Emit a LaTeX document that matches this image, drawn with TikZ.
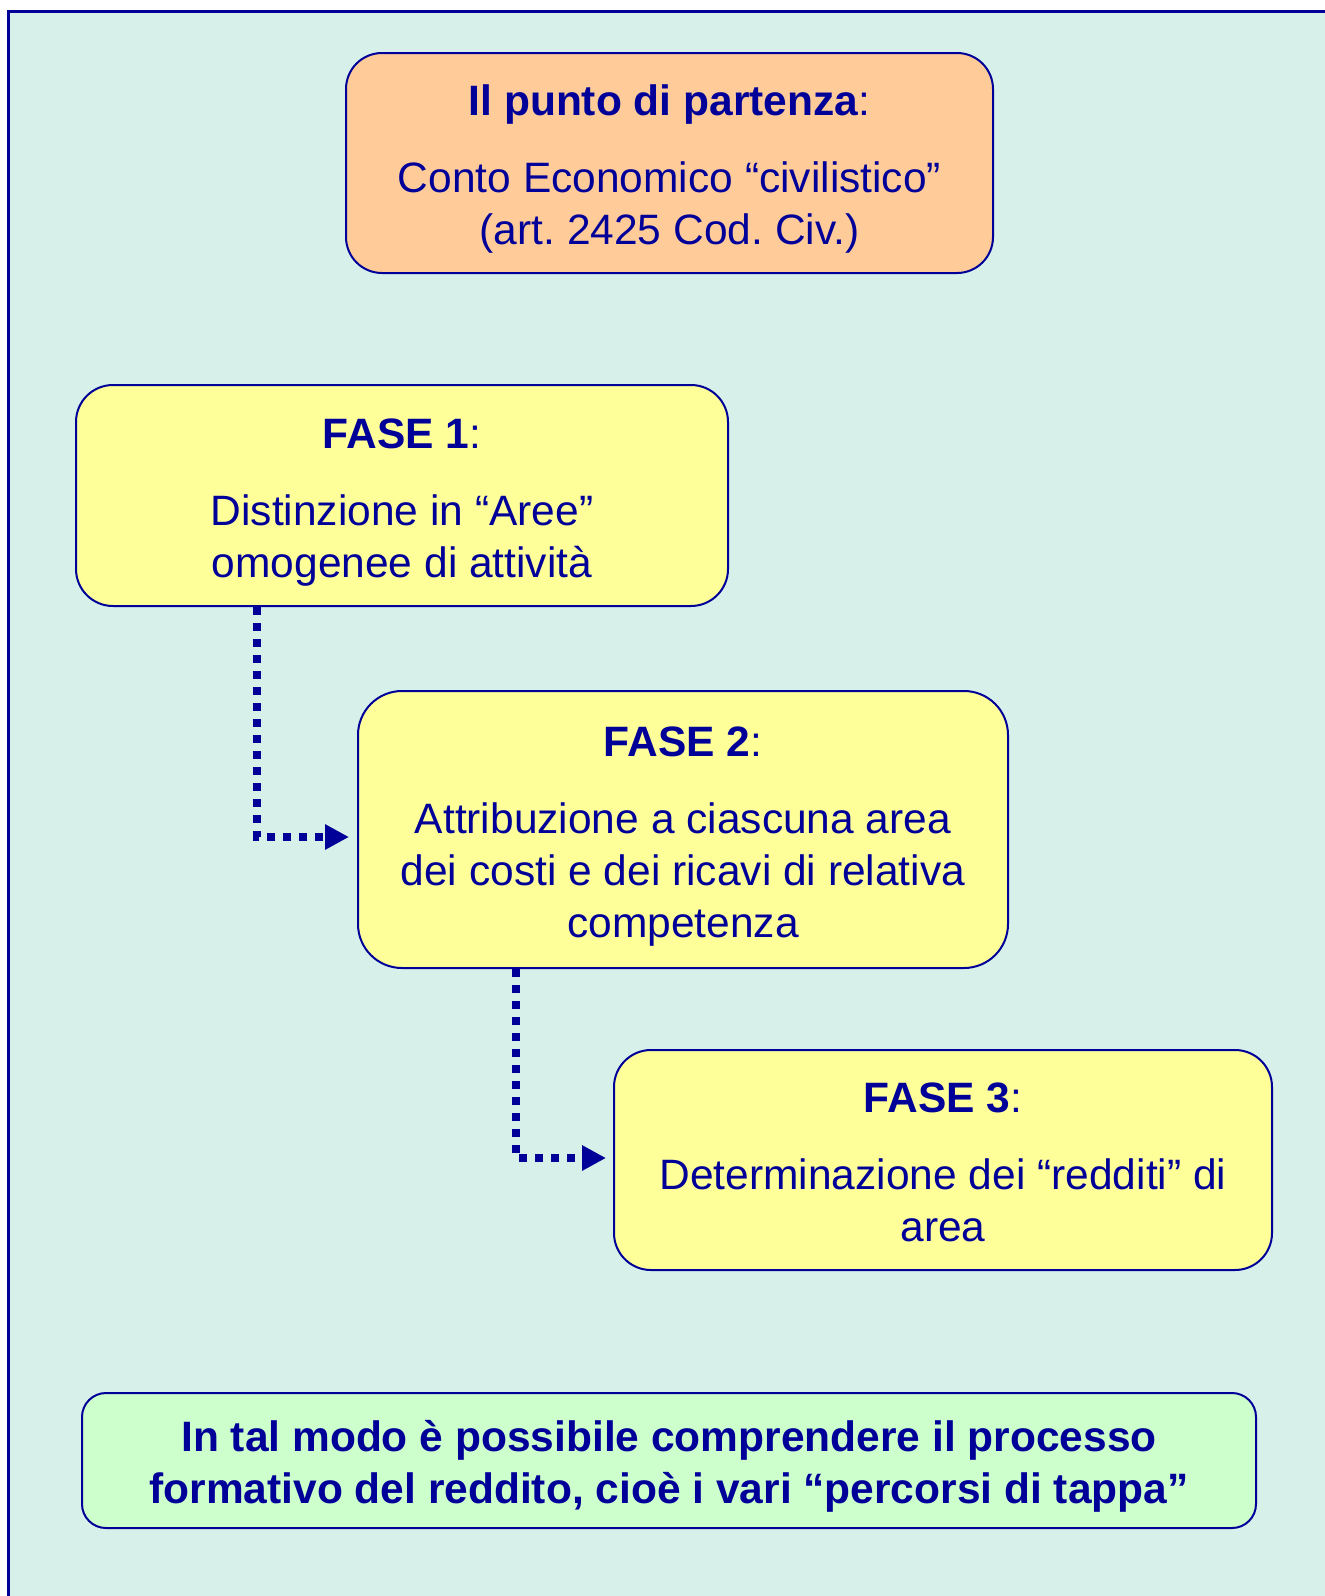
\documentclass[tikz,border=0pt]{standalone}
\usepackage{fontspec}
\setmainfont{Liberation Sans}
\usetikzlibrary{arrows.meta,calc}
\definecolor{navy}{HTML}{000099}
\definecolor{mint}{HTML}{D7F1EA}
\definecolor{peach}{HTML}{FFCC99}
\definecolor{lemon}{HTML}{FFFF99}
\definecolor{pale}{HTML}{CCFFCC}
% struts giving the first and last lines of a box full line height/depth
\newcommand\firststrut{\rule{0pt}{43pt}}
\newcommand\laststrut{\rule[-9pt]{0pt}{1pt}}
\begin{document}
\begin{tikzpicture}[x=1pt,y=-1pt,
  box/.style={draw=navy,line width=2pt,align=center,text=navy,
    font=\fontsize{42.5}{52}\selectfont\frenchspacing,inner sep=0pt},
  flow/.style={draw=navy,line width=8pt,dash pattern=on 8pt off 8pt,
    -{Triangle[length=24pt,width=24pt]}}]
  % page and slide frame
  \useasboundingbox (0,0) rectangle (1325,1596);
  \fill[white] (0,0) rectangle (1325,1596);
  \begin{scope}
    \clip (0,0) rectangle (1325,1596);
    \draw[fill=mint,draw=navy,line width=3pt] (8.5,11.5) rectangle (1340,1610);
  \end{scope}

  % boxes
  \node[box,fill=peach,rounded corners=36pt,minimum width=647pt,minimum height=220pt]
    (start) at (669.5,163)
    {\firststrut\textbf{Il punto di partenza}:\\[25pt]Conto Economico “civilistico”\\(art. 2425 Cod. Civ.)\laststrut};
  \node[box,fill=lemon,rounded corners=37pt,minimum width=652pt,minimum height=221pt]
    (f1) at (402,495.5)
    {\firststrut\textbf{FASE 1}:\\[25pt]Distinzione in “Aree”\\omogenee di attività\laststrut};
  \node[box,fill=lemon,rounded corners=44pt,minimum width=650pt,minimum height=277pt]
    (f2) at (683,829.5)
    {\firststrut\textbf{FASE 2}:\\[25pt]Attribuzione a ciascuna area\\dei costi e dei ricavi di relativa\\competenza\laststrut};
  \node[box,fill=lemon,rounded corners=37pt,minimum width=658pt,minimum height=220pt]
    (f3) at (943,1160)
    {\firststrut\textbf{FASE 3}:\\[25pt]Determinazione dei “redditi” di\\area\laststrut};
  \node[box,fill=pale,rounded corners=24pt,minimum width=1174pt,minimum height=135pt]
    (end) at (669,1460.5)
    {\firststrut\bfseries In tal modo è possibile comprendere il processo\\\bfseries formativo del reddito, cioè i vari “percorsi di tappa”\laststrut};

  % dotted connectors
  \coordinate (k1) at (257,837);
  \coordinate (k2) at (516,1158);
  \draw[flow,shorten >=8pt] (f1.south -| k1) |- (k1 -| f2.west);
  \draw[flow,shorten >=7pt] (f2.south -| k2) |- (k2 -| f3.west);
\end{tikzpicture}
\end{document}
